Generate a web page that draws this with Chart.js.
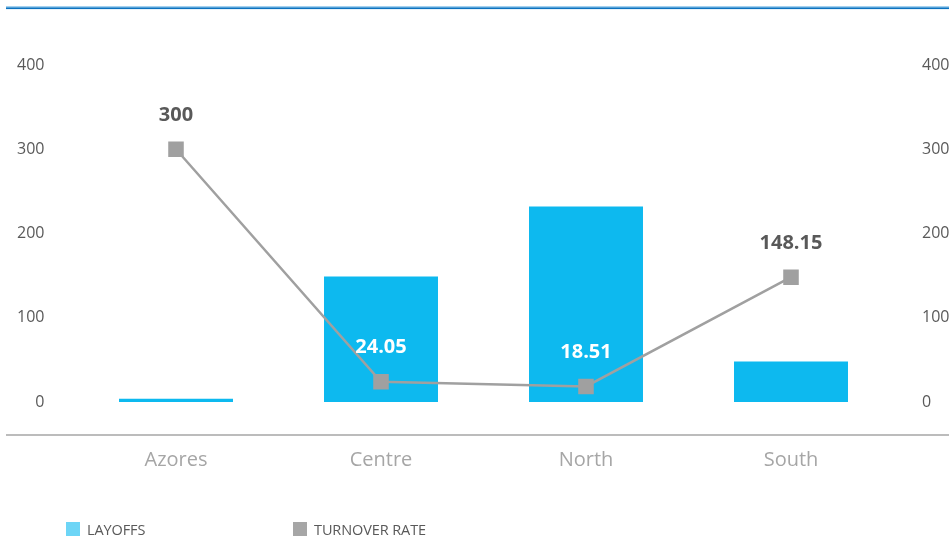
<!DOCTYPE html>
<html>
<head>
<meta charset="utf-8">
<script src="https://cdn.jsdelivr.net/npm/chart.js@4/dist/chart.umd.min.js"></script>
<style>
  html, body { margin: 0; padding: 0; background: #ffffff; }
  #wrap { position: relative; width: 949px; height: 538px; overflow: hidden; }
  #chart { position: absolute; left: 0; top: 0; }
  .legend { position: absolute; top: 521px; height: 16px; display: flex; align-items: center;
            font-family: "Open Sans", sans-serif; font-size: 14.5px; color: #595959; letter-spacing: -0.1px; }
  .legend .sw { width: 14px; height: 14px; margin-right: 7px; }
</style>
</head>
<body>
<div id="wrap">
  <canvas id="chart" width="949" height="538"></canvas>
  <div class="legend" style="left:66px"><span class="sw" style="background:#6dd5f6"></span>LAYOFFS</div>
  <div class="legend" style="left:293px"><span class="sw" style="background:#a6a6a6"></span>TURNOVER RATE</div>
</div>
<script>
// Regions and the two measures shown for each
const regions = ['Azores', 'Centre', 'North', 'South'];
const layoffs = [4, 149, 232, 48];
const turnoverRate = [300, 24.05, 18.51, 148.15];
const axisTicks = [0, 100, 200, 300, 400];

const FONT = '"Open Sans", sans-serif';
const BAR_COLOR = '#0db9ef';
const LINE_COLOR = '#a0a0a0';

// Thin rule at the top of the page and the baseline under the plot
const frameLines = {
  id: 'frameLines',
  beforeDraw(chart) {
    const ctx = chart.ctx;
    ctx.save();
    ctx.fillStyle = '#4aa3df';
    ctx.fillRect(6, 6.5, chart.width - 6, 1);
    ctx.fillStyle = '#0b72bf';
    ctx.fillRect(6, 7.5, chart.width - 6, 1.6);
    ctx.strokeStyle = '#a6a6a6';
    ctx.lineWidth = 1.5;
    ctx.beginPath();
    ctx.moveTo(6, 435);
    ctx.lineTo(chart.width, 435);
    ctx.stroke();
    ctx.restore();
  }
};

// Value labels above each turnover point; white where they sit on a bar
const pointLabels = {
  id: 'pointLabels',
  afterDatasetsDraw(chart) {
    const ctx = chart.ctx;
    const barMeta = chart.getDatasetMeta(0);
    const lineMeta = chart.getDatasetMeta(1);
    ctx.save();
    ctx.font = 'bold 20px ' + FONT;
    ctx.textAlign = 'center';
    ctx.textBaseline = 'middle';
    lineMeta.data.forEach((pt, i) => {
      const y = pt.y - 34;
      const bar = barMeta.data[i];
      const onBar = y > bar.y && y < bar.base;
      ctx.fillStyle = onBar ? '#ffffff' : '#595959';
      ctx.fillText(String(turnoverRate[i]), pt.x, y);
    });
    ctx.restore();
  }
};

const tickOpts = {
  font: { family: FONT, size: 16 },
  color: '#595959',
  stepSize: 100,
  align: 'center',
  crossAlign: 'near'
};

new Chart(document.getElementById('chart'), {
  data: {
    labels: regions,
    datasets: [
      {
        type: 'bar',
        label: 'LAYOFFS',
        data: layoffs,
        yAxisID: 'y',
        backgroundColor: BAR_COLOR,
        categoryPercentage: 0.556,
        barPercentage: 1,
        order: 1
      },
      {
        type: 'line',
        label: 'TURNOVER RATE',
        data: turnoverRate,
        yAxisID: 'y1',
        borderColor: LINE_COLOR,
        borderWidth: 2.5,
        pointStyle: 'rect',
        pointRadius: 11,
        pointHoverRadius: 11,
        pointBackgroundColor: LINE_COLOR,
        pointBorderWidth: 0,
        tension: 0,
        order: 0
      }
    ]
  },
  options: {
    responsive: false,
    animation: false,
    events: [],
    layout: { padding: { top: 65, left: 0, right: 0, bottom: 0 } },
    plugins: {
      legend: { display: false },
      tooltip: { enabled: false }
    },
    scales: {
      x: {
        grid: { display: false, drawTicks: false },
        border: { display: false },
        ticks: { font: { family: FONT, size: 20 }, color: '#a6a6a6', padding: 46 },
        afterFit(s) { s.height = 538 - 402; }
      },
      y: {
        position: 'left',
        min: 0, max: 400,
        grid: { display: false, drawTicks: false },
        border: { display: false },
        ticks: Object.assign({}, tickOpts, { padding: 29 }),
        afterBuildTicks(s) { s.ticks = axisTicks.map(v => ({ value: v })); },
        afterFit(s) { s.width = 73.5; }
      },
      y1: {
        position: 'right',
        min: 0, max: 400,
        grid: { display: false, drawTicks: false },
        border: { display: false },
        ticks: Object.assign({}, tickOpts, { padding: 28.5 }),
        afterBuildTicks(s) { s.ticks = axisTicks.map(v => ({ value: v })); },
        afterFit(s) { s.width = 949 - 893.5; }
      }
    }
  },
  plugins: [frameLines, pointLabels]
});
</script>
</body>
</html>
